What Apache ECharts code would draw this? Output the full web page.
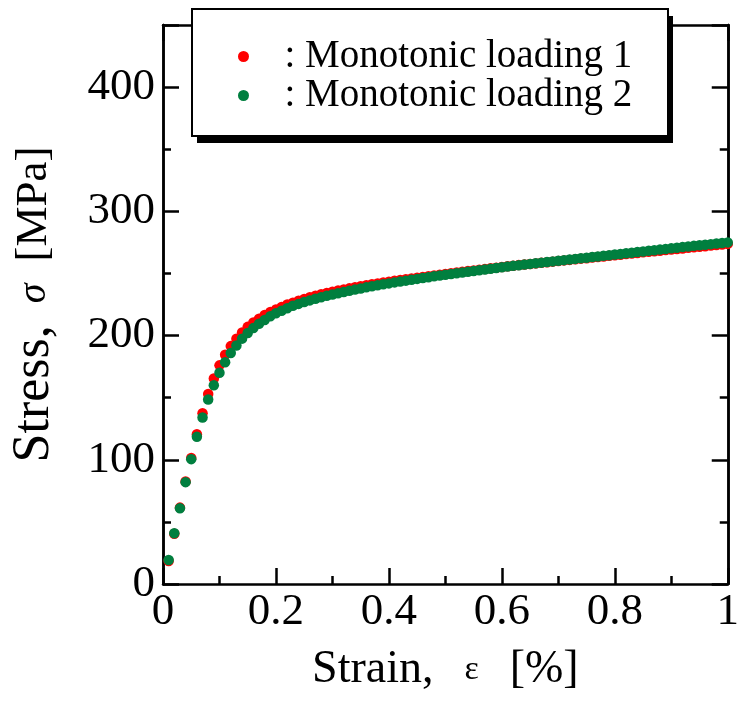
<!DOCTYPE html>
<html>
<head>
<meta charset="utf-8">
<script src="https://cdn.jsdelivr.net/npm/echarts@6/dist/echarts.min.js"></script>
<style>html,body{margin:0;padding:0;background:#fff}#c{width:742px;height:702px}</style>
</head>
<body>
<div id="c"></div>
<script>
var strain = [0.01,0.02,0.03,0.04,0.05,0.06,0.07,0.08,0.09,0.10,
0.11,0.12,0.13,0.14,0.15,0.16,0.17,0.18,0.19,0.20,
0.21,0.22,0.23,0.24,0.25,0.26,0.27,0.28,0.29,0.30,
0.31,0.32,0.33,0.34,0.35,0.36,0.37,0.38,0.39,0.40,
0.41,0.42,0.43,0.44,0.45,0.46,0.47,0.48,0.49,0.50,
0.51,0.52,0.53,0.54,0.55,0.56,0.57,0.58,0.59,0.60,
0.61,0.62,0.63,0.64,0.65,0.66,0.67,0.68,0.69,0.70,
0.71,0.72,0.73,0.74,0.75,0.76,0.77,0.78,0.79,0.80,
0.81,0.82,0.83,0.84,0.85,0.86,0.87,0.88,0.89,0.90,
0.91,0.92,0.93,0.94,0.95,0.96,0.97,0.98,0.99,1.00];

var stress1 = [18.5,40.5,61.5,82.5,101.5,120.5,137.5,153,165.5,176,
184.5,191.5,197.5,202.5,207,210.5,213.5,216.5,219,221,
223,225,226.5,228,229.5,230.8,232,233.2,234.3,235.3,
236.2,237.1,238,238.9,239.7,240.5,241.3,242,242.7,243.4,
244.1,244.8,245.4,246,246.6,247.2,247.8,248.4,249,249.6,
250.2,250.8,251.3,251.9,252.4,253,253.5,254.1,254.6,255.2,
255.7,256.2,256.7,257.1,257.6,258.1,258.6,259.0,259.5,260.0,
260.5,260.9,261.4,261.9,262.3,262.8,263.3,263.7,264.2,264.7,
265.1,265.6,266.0,266.5,267.0,267.4,267.9,268.3,268.8,269.2,
269.7,270.1,270.6,271.0,271.5,271.9,272.4,272.8,273.3,273.8];

var stress2 = [19.3,40.8,61,82,100.5,118.5,134,148.5,160,170,
178.5,186,192,197.5,202,206,209.5,212.5,215.5,218,
220,222,224,225.5,227,228.3,229.6,230.8,232,233,
234,235,236,237,237.9,238.8,239.7,240.5,241.3,242,
242.8,243.5,244.2,244.9,245.6,246.3,247,247.7,248.3,249,
249.6,250.2,250.8,251.4,252,252.6,253.2,253.8,254.4,255,
255.55,256.1,256.65,257.2,257.7,258.2,258.7,259.2,259.7,260.2,
260.7,261.2,261.7,262.2,262.7,263.2,263.7,264.2,264.7,265.2,
265.7,266.2,266.7,267.2,267.7,268.2,268.7,269.2,269.7,270.2,
270.7,271.2,271.7,272.2,272.7,273.1,273.6,274.1,274.5,275];

var seriesNames = ['Monotonic loading 1', 'Monotonic loading 2'];

function pairs(xs, ys) { return xs.map(function (x, i) { return [x, ys[i]]; }); }

var FONT = 'Liberation Serif';
var lineStyle = { color: '#000', width: 2.5 };
var tickStyle = { color: '#000', width: 2.5 };

var chart = echarts.init(document.getElementById('c'), null, { renderer: 'canvas' });
var yBase = { type: 'value', min: 0, max: 450, splitLine: { show: false },
  axisLine: { show: true, onZero: false, lineStyle: lineStyle } };

chart.setOption({
  animation: false,
  backgroundColor: '#fff',
  grid: { left: 163, right: 10, top: 25, bottom: 118, containLabel: false },
  graphic: [
    { type: 'rect', z: 100, shape: { x: 197, y: 16, width: 476, height: 127 },
      style: { fill: '#000' } },
    { type: 'rect', z: 101, shape: { x: 192, y: 9, width: 476, height: 127 },
      style: { fill: '#fff', stroke: '#000', lineWidth: 2 } }
  ],
  legend: {
    orient: 'vertical', left: 223, top: 11, z: 200,
    padding: [26, 10, 10, 15],
    itemGap: 0, itemWidth: 72, itemHeight: 11,
    icon: 'circle',
    formatter: ': {name}',
    textStyle: { fontFamily: FONT, fontSize: 39, color: '#000', lineHeight: 34 },
    data: seriesNames
  },
  xAxis: [{
    type: 'value', min: 0, max: 1, interval: 0.2, position: 'bottom',
    axisLine: { show: true, onZero: false, lineStyle: lineStyle },
    axisTick: { show: true, inside: true, length: 16, lineStyle: tickStyle },
    minorTick: { show: true, splitNumber: 2, length: 8, lineStyle: tickStyle },
    splitLine: { show: false },
    axisLabel: { fontFamily: FONT, fontSize: 45, color: '#000', margin: 6 },
    name: 'Strain,{g| }{e|ε}{g| }[%]', nameLocation: 'middle', nameGap: 63,
    nameTextStyle: { fontFamily: FONT, fontSize: 46, color: '#000',
      rich: { e: { fontFamily: FONT, fontSize: 34, color: '#000' },
              g: { fontFamily: FONT, fontSize: 46, width: 31 } } }
  }, {
    type: 'value', min: 0, max: 1, interval: 0.2, position: 'top',
    axisLine: { show: true, onZero: false, lineStyle: lineStyle },
    axisTick: { show: true, inside: true, length: 16, lineStyle: tickStyle },
    minorTick: { show: true, splitNumber: 2, length: 8, lineStyle: tickStyle },
    splitLine: { show: false }, axisLabel: { show: false }
  }],
  yAxis: [
    Object.assign({}, yBase, { position: 'left', interval: 100,
      axisTick: { show: true, inside: true, length: 16, lineStyle: tickStyle },
      axisLabel: { fontFamily: FONT, fontSize: 45, color: '#000', margin: 8,
        formatter: function (v) { return v > 400 ? '' : String(v); } },
      name: '{st|Stress,}{g| }{s|σ}{g| }[MPa]', nameLocation: 'middle', nameGap: 103, nameRotate: 90,
      nameTextStyle: { fontFamily: FONT, fontSize: 45, color: '#000',
        rich: { st: { fontFamily: FONT, fontSize: 52, color: '#000' },
                s: { fontFamily: FONT, fontSize: 40, fontStyle: 'italic', color: '#000' },
                g: { fontFamily: FONT, fontSize: 45, width: 22 } } } }),
    Object.assign({}, yBase, { position: 'left', interval: 50,
      axisTick: { show: true, inside: true, length: 8, lineStyle: tickStyle },
      axisLabel: { show: false } }),
    Object.assign({}, yBase, { position: 'right', interval: 100,
      axisTick: { show: true, inside: true, length: 16, lineStyle: tickStyle },
      axisLabel: { show: false } }),
    Object.assign({}, yBase, { position: 'right', interval: 50,
      axisTick: { show: true, inside: true, length: 8, lineStyle: tickStyle },
      axisLabel: { show: false } })
  ],
  series: [{
    name: seriesNames[0], type: 'scatter', symbol: 'circle', symbolSize: 10.5,
    itemStyle: { color: '#ff0000', opacity: 1 }, data: pairs(strain, stress1), z: 2
  }, {
    name: seriesNames[1], type: 'scatter', symbol: 'circle', symbolSize: 10.5,
    itemStyle: { color: '#007f3f', opacity: 1 }, data: pairs(strain, stress2), z: 3
  }]
});
</script>
</body>
</html>
